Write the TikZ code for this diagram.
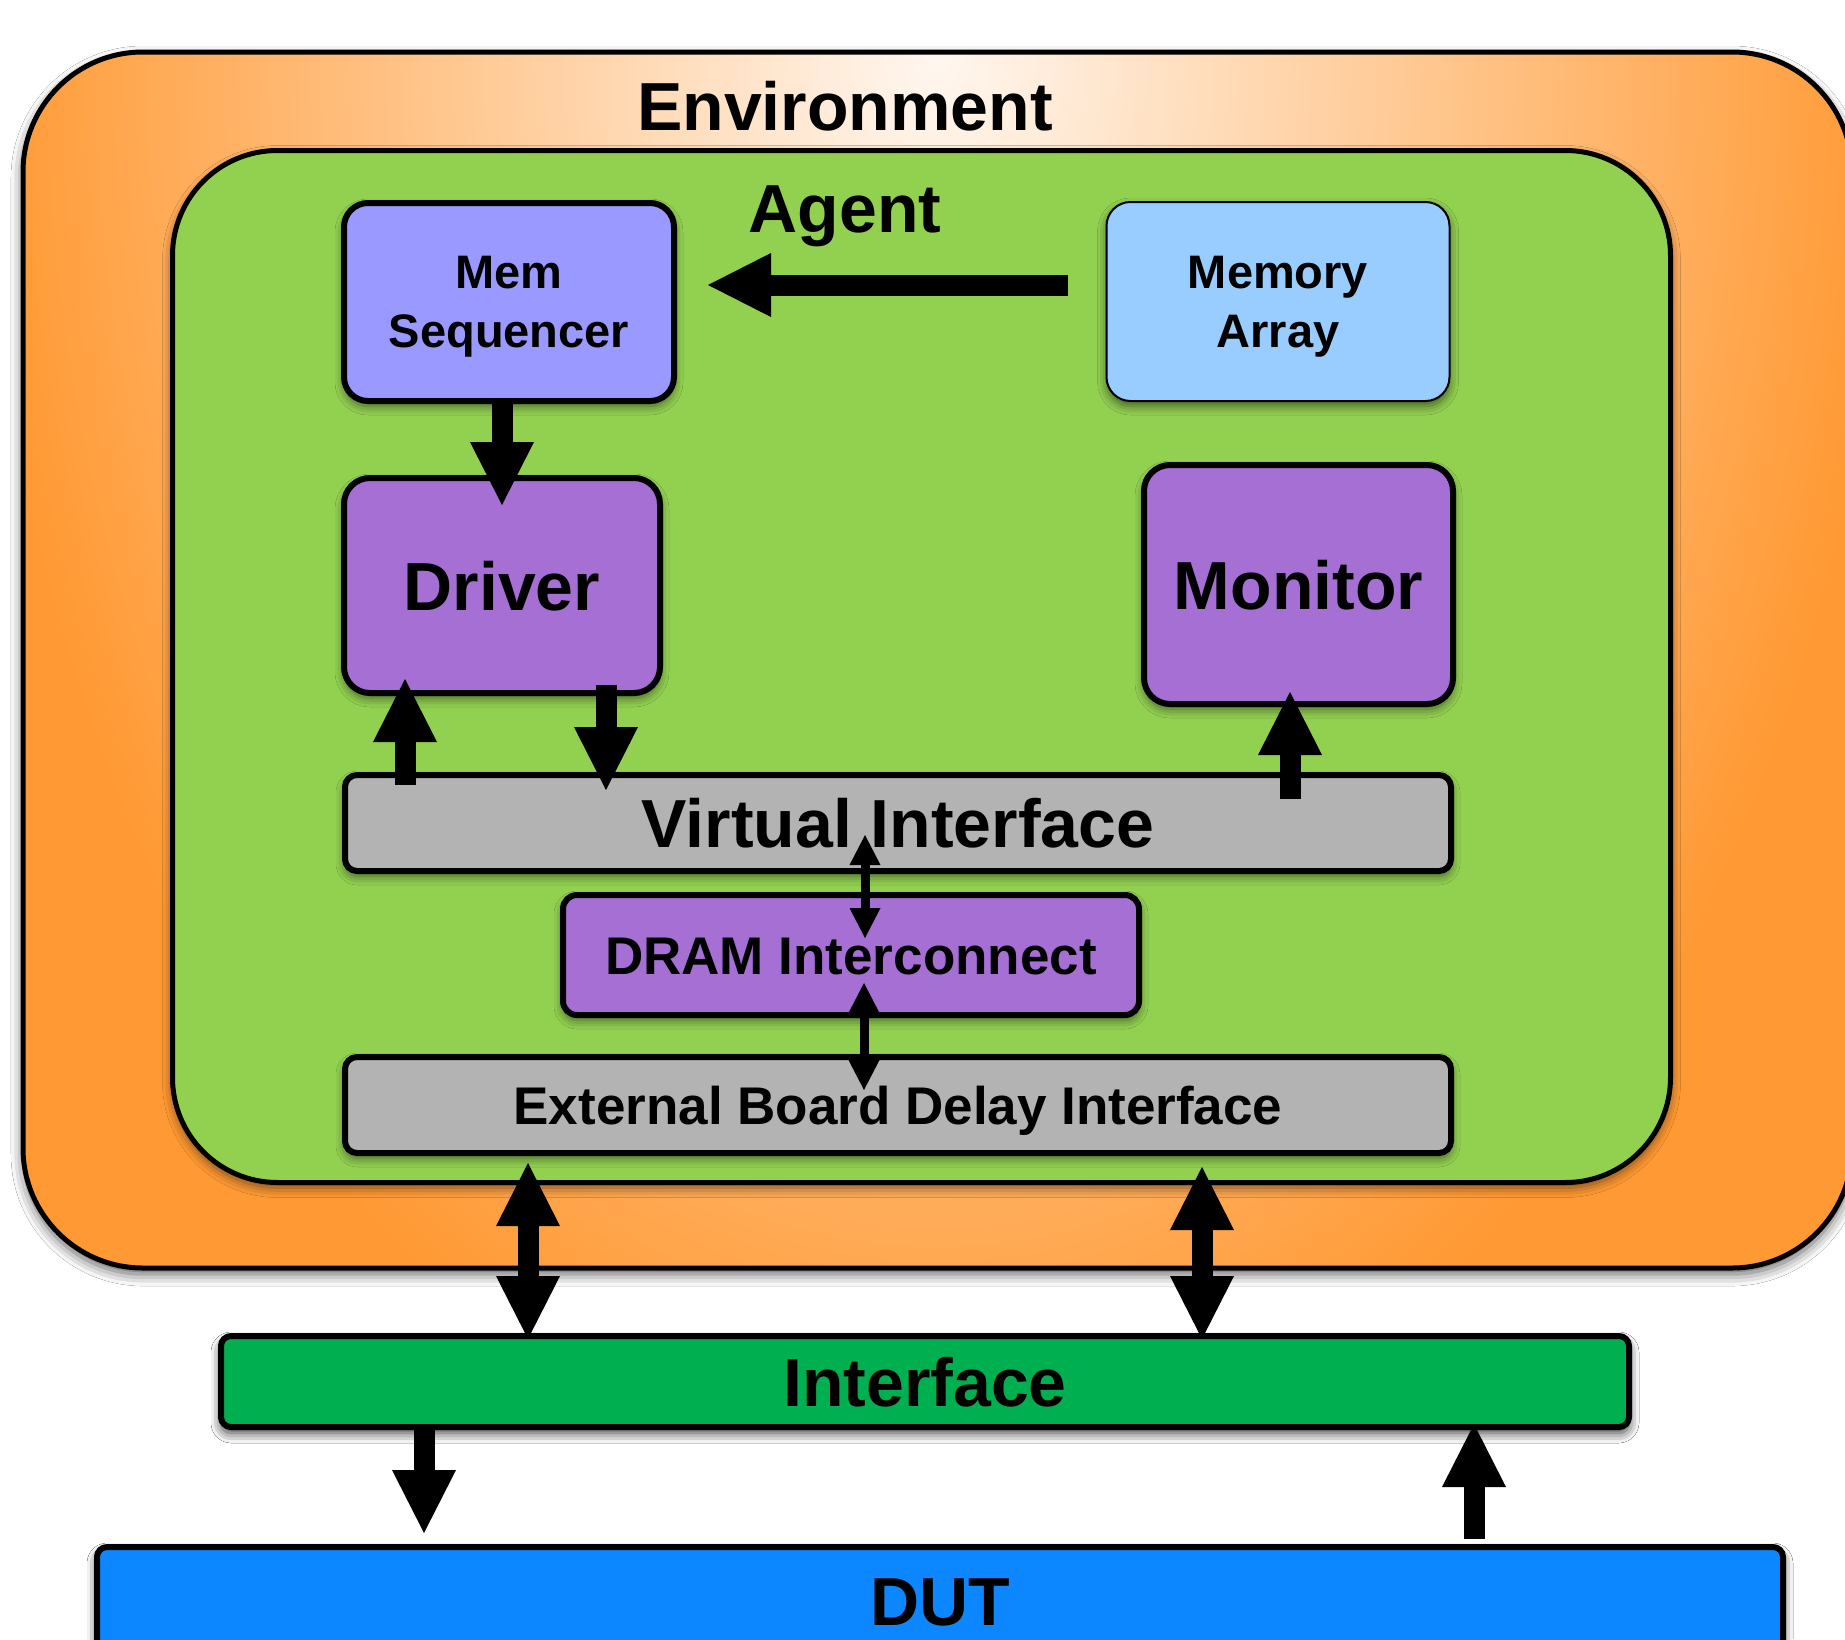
\documentclass[tikz,border=0pt]{standalone}
\usepackage{fontspec}
\setmainfont{Liberation Sans}
\usetikzlibrary{arrows.meta,shadows.blur}

\definecolor{orangeE}{HTML}{FF9933}
\definecolor{envlight}{HTML}{FFF7F0}
\definecolor{agentgreen}{HTML}{92D050}
\definecolor{seqblue}{HTML}{9999FF}
\definecolor{memblue}{HTML}{99CCFF}
\definecolor{purp}{HTML}{A66FD4}
\definecolor{grayb}{HTML}{B3B3B3}
\definecolor{ifgreen}{HTML}{00B050}
\definecolor{dutblue}{HTML}{0C87FF}

\tikzset{
  shad/.style={blur shadow={shadow xshift=0pt, shadow yshift=-5pt, shadow blur radius=9pt, shadow opacity=55}},
  boxbase/.style={draw=black, line width=6pt, inner sep=0pt, outer sep=0pt, font=\bfseries, text=black, shad},
  bigtxt/.style={font=\fontsize{68pt}{80pt}\selectfont\bfseries, text height=49pt, text depth=0pt},
  midtxt/.style={font=\fontsize{53pt}{64pt}\selectfont\bfseries, text height=38pt, text depth=0pt},
  smalltxt/.style={font=\fontsize{47pt}{59pt}\selectfont\bfseries, align=center, text depth=0pt},
  titletxt/.style={font=\fontsize{68pt}{80pt}\selectfont\bfseries, anchor=base, inner sep=0pt},
  fat/.style={draw=black, line width=21pt, -{Triangle[width=64pt,length=63pt,line width=0pt,color=black,fill=black]}},
  fatboth/.style={draw=black, line width=21pt, {Triangle[width=64pt,length=63pt,line width=0pt,color=black,fill=black]}-{Triangle[width=64pt,length=63pt,line width=0pt,color=black,fill=black]}},
  thinboth/.style={draw=black, line width=9pt, {Triangle[width=31pt,length=30pt,line width=0pt,color=black,fill=black]}-{Triangle[width=31pt,length=30pt,line width=0pt,color=black,fill=black]}}
}

\begin{document}
\begin{tikzpicture}[x=1pt,y=-1pt]
\useasboundingbox (0,0) rectangle (1845,1639);
\clip (0,0) rectangle (1845,1639);
\fill[white] (0,0) rectangle (1845,1639);

% Environment
\fill[orangeE, blur shadow={shadow xshift=0pt, shadow yshift=-6pt, shadow blur radius=12pt, shadow opacity=65}, rounded corners=120pt] (23,52) rectangle (1852,1268);
\begin{scope}
  \clip[rounded corners=120pt] (23,52) rectangle (1852,1268);
  \shade[inner color=envlight, outer color=orangeE] (937,50) ellipse [x radius=960, y radius=1450];
\end{scope}
\node[draw=black, line width=5pt, rounded corners=120pt, inner sep=0pt, outer sep=0pt,
      minimum width=1829pt, minimum height=1216pt] (env) at (937.5,660) {};
\node[titletxt] (envlabel) at (845,130) {Environment};

% Agent
\node[draw=black, line width=5pt, fill=agentgreen, rounded corners=105pt, inner sep=0pt, outer sep=0pt,
      minimum width=1498pt, minimum height=1032pt,
      blur shadow={shadow xshift=0pt, shadow yshift=-5pt, shadow blur radius=10pt, shadow opacity=55}] (agent) at (921.5,666.5) {};
\node[titletxt] (agentlabel) at (845,232) {Agent};

% Boxes
\node[boxbase, fill=seqblue, rounded corners=24pt, minimum width=330pt, minimum height=198pt, smalltxt] (memseq) at (509,302) {Mem\\Sequencer};
\node[boxbase, line width=2pt, fill=memblue, rounded corners=24pt, minimum width=343pt, minimum height=199pt, smalltxt] (memarr) at (1278,301.5) {Memory\\Array};
\node[boxbase, fill=purp, rounded corners=26pt, minimum width=316pt, minimum height=215pt, bigtxt] (driver) at (502,585.5) {Driver};
\node[boxbase, fill=purp, rounded corners=26pt, minimum width=309pt, minimum height=239pt, bigtxt] (monitor) at (1298.5,584.5) {Monitor};
\node[boxbase, fill=grayb, rounded corners=12pt, minimum width=1106pt, minimum height=96pt, bigtxt] (vi) at (898,823) {Virtual Interface};
\node[boxbase, fill=purp, rounded corners=14pt, minimum width=576pt, minimum height=120pt, midtxt] (dram) at (851,955) {DRAM Interconnect};
\node[boxbase, fill=grayb, rounded corners=12pt, minimum width=1106pt, minimum height=96pt, midtxt] (ebdi) at (898,1105) {External Board Delay Interface};
\node[boxbase, fill=ifgreen, rounded corners=10pt, minimum width=1408pt, minimum height=91pt, bigtxt,
      blur shadow={shadow xshift=0pt, shadow yshift=-6pt, shadow blur radius=10pt, shadow opacity=45}] (iface) at (925,1381.5) {Interface};
\node[boxbase, fill=dutblue, rounded corners=10pt, minimum width=1686pt, minimum height=108pt, bigtxt,
      blur shadow={shadow xshift=0pt, shadow yshift=-6pt, shadow blur radius=10pt, shadow opacity=45}] (dut) at (940,1601) {DUT};

% Connectors
\draw[fat, shorten <=38.5pt, shorten >=34pt] (memarr.west |- 0,285) -- (memseq.east |- 0,285);
\draw[fat, shorten <=-3pt, shorten >=-27pt] (memseq.south -| 502,0) -- (driver.north -| 502,0);
\draw[fat, shorten <=-10pt, shorten >=-14pt] (vi.north -| 405,0) -- (driver.south -| 405,0);
\draw[fat, shorten <=-8pt, shorten >=-15pt] (driver.south -| 606,0) -- (vi.north -| 606,0);
\draw[fat, shorten <=-24pt, shorten >=-12pt] (vi.north -| 1290,0) -- (monitor.south -| 1290,0);
\draw[thinboth, shorten <=-36pt, shorten >=-43pt] (vi.south -| 865,0) -- (dram.north -| 865,0);
\draw[thinboth, shorten <=-32pt, shorten >=-33pt] (dram.south -| 864,0) -- (ebdi.north -| 864,0);
\draw[fatboth, shorten <=10pt, shorten >=-3pt] (ebdi.south -| 528,0) -- (iface.north -| 528,0);
\draw[fatboth, shorten <=14pt, shorten >=-3pt] (ebdi.south -| 1202,0) -- (iface.north -| 1202,0);
\draw[fat, shorten <=-3pt, shorten >=14pt] (iface.south -| 424,0) -- (dut.north -| 424,0);
\draw[fat, shorten <=8pt, shorten >=-3pt] (dut.north -| 1474,0) -- (iface.south -| 1474,0);
\end{tikzpicture}
\end{document}
